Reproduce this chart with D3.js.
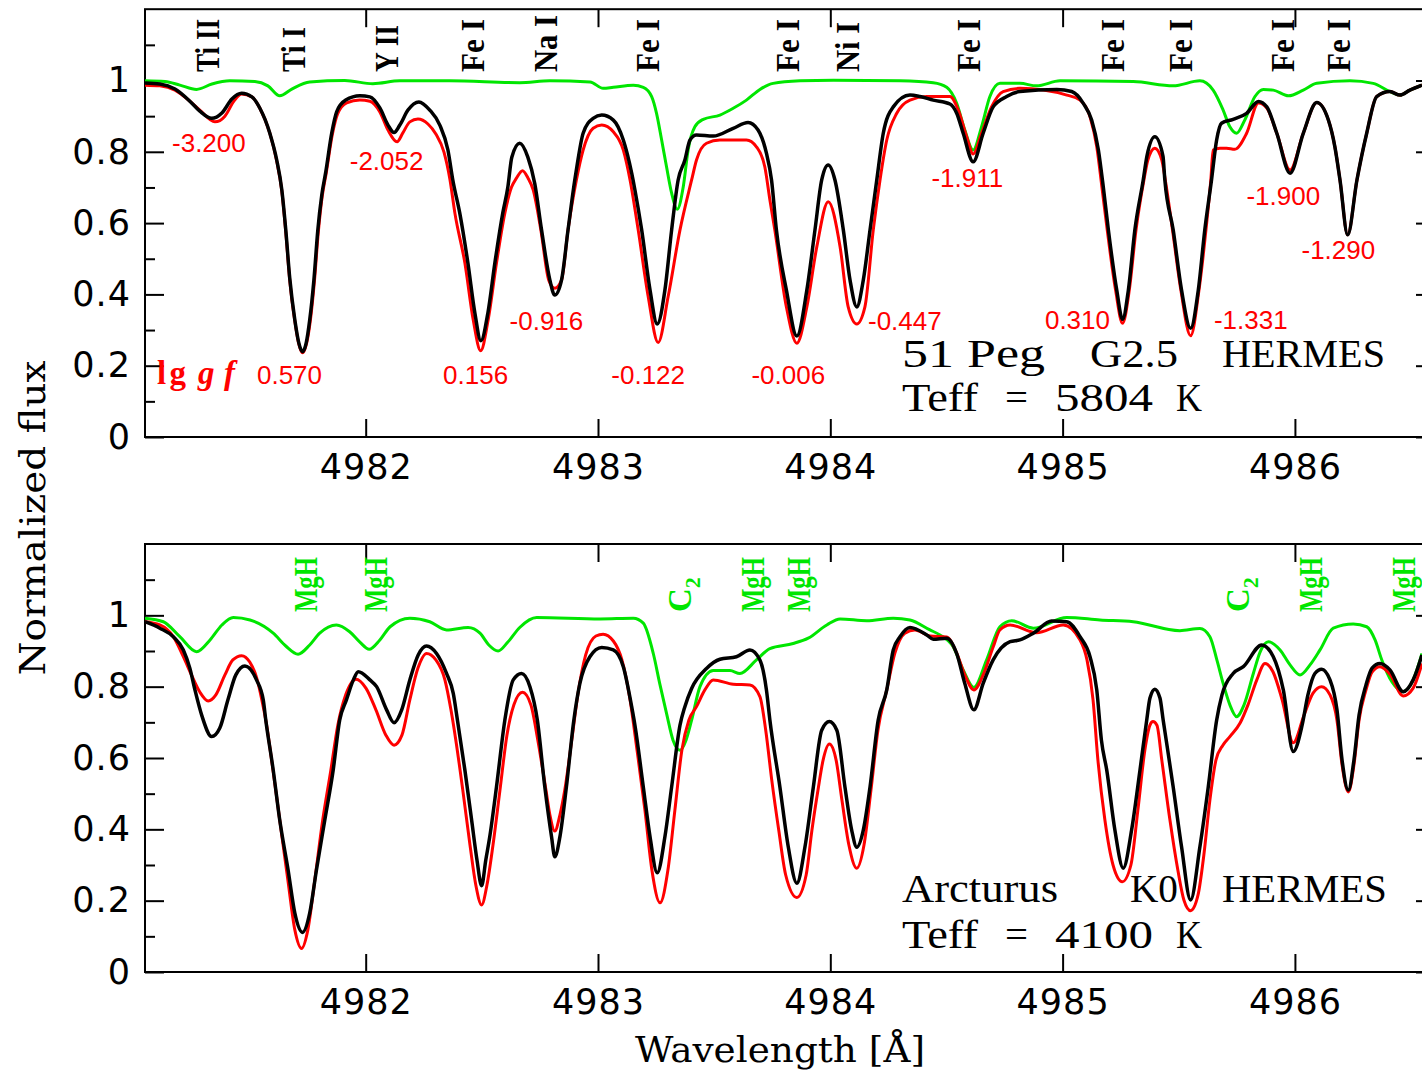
<!DOCTYPE html>
<html><head><meta charset="utf-8">
<script src="https://cdn.jsdelivr.net/npm/d3@7/dist/d3.min.js"></script>
<style>body{margin:0;background:#fff}svg{display:block}</style>
</head><body>
<svg id="chart" width="1422" height="1070"></svg>
<script>
// ---------------- data ----------------
const xTicks = [4982, 4983, 4984, 4985, 4986];
const yMajorTicks = [0, 0.2, 0.4, 0.6, 0.8, 1.0];
const yMajorLabels = ["0", "0.2", "0.4", "0.6", "0.8", "1"];
const yMinorTicks = [0.1, 0.3, 0.5, 0.7, 0.9, 1.1];

// 51 Peg: observed (black)
const pegObserved = [[4981.050,0.993],[4981.114,0.990],[4981.179,0.976],[4981.243,0.942],[4981.286,0.914],[4981.337,0.894],[4981.381,0.909],[4981.424,0.948],[4981.466,0.964],[4981.510,0.954],[4981.544,0.923],[4981.587,0.853],[4981.617,0.777],[4981.639,0.693],[4981.656,0.581],[4981.673,0.446],[4981.695,0.328],[4981.712,0.264],[4981.728,0.239],[4981.744,0.264],[4981.759,0.328],[4981.777,0.440],[4981.794,0.581],[4981.811,0.679],[4981.828,0.743],[4981.854,0.853],[4981.875,0.912],[4981.914,0.945],[4981.975,0.957],[4982.018,0.954],[4982.061,0.923],[4982.096,0.875],[4982.122,0.854],[4982.147,0.875],[4982.182,0.917],[4982.229,0.940],[4982.276,0.917],[4982.319,0.875],[4982.354,0.805],[4982.375,0.721],[4982.405,0.628],[4982.440,0.488],[4982.470,0.348],[4982.496,0.270],[4982.526,0.348],[4982.556,0.488],[4982.590,0.628],[4982.612,0.701],[4982.629,0.785],[4982.663,0.824],[4982.698,0.785],[4982.728,0.710],[4982.757,0.581],[4982.793,0.440],[4982.814,0.398],[4982.843,0.440],[4982.871,0.581],[4982.900,0.721],[4982.909,0.758],[4982.936,0.852],[4982.979,0.894],[4983.016,0.903],[4983.066,0.889],[4983.109,0.833],[4983.145,0.740],[4983.159,0.693],[4983.188,0.581],[4983.224,0.412],[4983.255,0.317],[4983.288,0.412],[4983.317,0.581],[4983.345,0.721],[4983.374,0.777],[4983.396,0.833],[4983.424,0.847],[4983.496,0.844],[4983.582,0.866],[4983.646,0.882],[4983.689,0.861],[4983.725,0.796],[4983.747,0.721],[4983.768,0.581],[4983.811,0.412],[4983.856,0.283],[4983.899,0.412],[4983.934,0.581],[4983.963,0.721],[4983.991,0.763],[4984.020,0.721],[4984.056,0.581],[4984.085,0.440],[4984.114,0.365],[4984.142,0.440],[4984.171,0.581],[4984.200,0.721],[4984.228,0.852],[4984.271,0.926],[4984.343,0.959],[4984.386,0.955],[4984.443,0.945],[4984.515,0.934],[4984.544,0.908],[4984.572,0.852],[4984.615,0.772],[4984.658,0.852],[4984.701,0.926],[4984.759,0.955],[4984.816,0.969],[4984.975,0.975],[4985.039,0.969],[4985.089,0.936],[4985.125,0.889],[4985.154,0.805],[4985.175,0.702],[4985.197,0.581],[4985.233,0.412],[4985.258,0.330],[4985.283,0.412],[4985.311,0.581],[4985.347,0.721],[4985.363,0.788],[4985.397,0.842],[4985.432,0.788],[4985.440,0.721],[4985.476,0.581],[4985.512,0.412],[4985.551,0.305],[4985.584,0.412],[4985.612,0.581],[4985.641,0.721],[4985.663,0.833],[4985.684,0.880],[4985.734,0.891],[4985.792,0.908],[4985.843,0.941],[4985.879,0.926],[4985.922,0.852],[4985.979,0.740],[4986.036,0.852],[4986.094,0.938],[4986.144,0.889],[4986.172,0.814],[4986.194,0.721],[4986.227,0.567],[4986.267,0.721],[4986.309,0.852],[4986.352,0.955],[4986.409,0.969],[4986.452,0.959],[4986.495,0.973],[4986.547,0.987]];

// 51 Peg: synthetic (red)
const pegSynthetic = [[4981.050,0.987],[4981.114,0.985],[4981.179,0.973],[4981.243,0.942],[4981.286,0.917],[4981.351,0.884],[4981.394,0.900],[4981.433,0.942],[4981.466,0.962],[4981.510,0.954],[4981.544,0.923],[4981.587,0.853],[4981.617,0.774],[4981.639,0.690],[4981.656,0.575],[4981.673,0.440],[4981.695,0.325],[4981.712,0.261],[4981.728,0.236],[4981.745,0.261],[4981.761,0.323],[4981.779,0.435],[4981.796,0.575],[4981.813,0.676],[4981.830,0.740],[4981.856,0.847],[4981.879,0.906],[4981.918,0.937],[4981.975,0.945],[4982.018,0.942],[4982.061,0.912],[4982.096,0.861],[4982.135,0.828],[4982.160,0.853],[4982.190,0.884],[4982.225,0.892],[4982.268,0.878],[4982.302,0.850],[4982.337,0.799],[4982.363,0.721],[4982.384,0.628],[4982.427,0.488],[4982.463,0.328],[4982.495,0.242],[4982.527,0.328],[4982.563,0.488],[4982.599,0.628],[4982.628,0.701],[4982.649,0.726],[4982.675,0.747],[4982.699,0.726],[4982.721,0.693],[4982.754,0.581],[4982.788,0.440],[4982.814,0.417],[4982.843,0.440],[4982.871,0.581],[4982.907,0.721],[4982.936,0.805],[4982.979,0.866],[4983.016,0.875],[4983.066,0.856],[4983.109,0.805],[4983.138,0.721],[4983.173,0.581],[4983.216,0.394],[4983.259,0.265],[4983.302,0.394],[4983.353,0.581],[4983.403,0.721],[4983.424,0.777],[4983.467,0.824],[4983.525,0.833],[4983.639,0.833],[4983.682,0.814],[4983.718,0.758],[4983.740,0.665],[4983.761,0.581],[4983.811,0.365],[4983.856,0.263],[4983.899,0.365],[4983.942,0.534],[4983.991,0.660],[4984.042,0.534],[4984.077,0.365],[4984.114,0.317],[4984.149,0.365],[4984.185,0.581],[4984.214,0.721],[4984.243,0.833],[4984.286,0.908],[4984.343,0.945],[4984.415,0.955],[4984.515,0.955],[4984.551,0.917],[4984.587,0.842],[4984.615,0.794],[4984.651,0.852],[4984.694,0.926],[4984.744,0.969],[4984.816,0.978],[4985.018,0.959],[4985.075,0.945],[4985.118,0.898],[4985.147,0.814],[4985.169,0.702],[4985.192,0.581],[4985.228,0.412],[4985.258,0.319],[4985.287,0.412],[4985.316,0.581],[4985.350,0.721],[4985.367,0.777],[4985.397,0.810],[4985.427,0.777],[4985.442,0.721],[4985.473,0.581],[4985.509,0.412],[4985.551,0.284],[4985.587,0.412],[4985.617,0.581],[4985.638,0.721],[4985.648,0.805],[4985.677,0.810],[4985.706,0.810],[4985.741,0.807],[4985.792,0.852],[4985.843,0.937],[4985.879,0.923],[4985.922,0.852],[4985.979,0.749],[4986.036,0.852],[4986.094,0.938],[4986.144,0.889],[4986.172,0.814],[4986.194,0.721],[4986.227,0.567],[4986.267,0.721],[4986.309,0.852],[4986.352,0.955],[4986.409,0.969],[4986.452,0.959],[4986.495,0.973],[4986.547,0.987]];

// 51 Peg: blend component (green)
const pegComponent = [[4981.050,0.999],[4981.136,0.997],[4981.200,0.987],[4981.272,0.975],[4981.338,0.990],[4981.415,0.999],[4981.523,0.997],[4981.579,0.985],[4981.630,0.957],[4981.682,0.976],[4981.759,0.996],[4981.910,1.000],[4982.031,0.991],[4982.147,0.999],[4982.362,0.999],[4982.663,0.994],[4982.793,0.999],[4982.966,0.996],[4983.022,0.978],[4983.066,0.981],[4983.152,0.987],[4983.195,0.981],[4983.231,0.955],[4983.252,0.908],[4983.274,0.833],[4983.295,0.758],[4983.317,0.684],[4983.341,0.639],[4983.367,0.702],[4983.388,0.805],[4983.417,0.870],[4983.453,0.891],[4983.525,0.903],[4983.582,0.922],[4983.639,0.945],[4983.697,0.975],[4983.754,0.992],[4983.870,0.999],[4984.013,1.001],[4984.300,0.999],[4984.443,0.994],[4984.501,0.981],[4984.544,0.936],[4984.579,0.861],[4984.615,0.805],[4984.651,0.870],[4984.687,0.955],[4984.730,0.992],[4984.816,0.992],[4984.888,0.985],[4984.989,0.999],[4985.304,0.997],[4985.476,0.985],[4985.591,0.999],[4985.648,0.973],[4985.691,0.917],[4985.720,0.870],[4985.749,0.852],[4985.784,0.889],[4985.828,0.955],[4985.864,0.975],[4985.907,0.973],[4985.972,0.957],[4986.036,0.973],[4986.094,0.992],[4986.237,0.999],[4986.337,0.992],[4986.409,0.969],[4986.452,0.959],[4986.495,0.973],[4986.547,0.987]];

// Arcturus: observed (black)
const arcObserved = [[4981.050,0.982],[4981.114,0.964],[4981.172,0.940],[4981.215,0.903],[4981.243,0.852],[4981.265,0.791],[4981.295,0.718],[4981.337,0.660],[4981.372,0.684],[4981.407,0.763],[4981.441,0.833],[4981.480,0.858],[4981.530,0.819],[4981.559,0.763],[4981.570,0.706],[4981.602,0.566],[4981.630,0.426],[4981.666,0.286],[4981.695,0.165],[4981.728,0.111],[4981.759,0.165],[4981.788,0.286],[4981.824,0.426],[4981.860,0.566],[4981.888,0.706],[4981.917,0.763],[4981.947,0.819],[4981.968,0.842],[4982.018,0.819],[4982.047,0.800],[4982.090,0.735],[4982.122,0.699],[4982.155,0.735],[4982.190,0.819],[4982.226,0.889],[4982.262,0.914],[4982.305,0.893],[4982.348,0.837],[4982.377,0.781],[4982.395,0.706],[4982.427,0.566],[4982.456,0.426],[4982.479,0.314],[4982.499,0.242],[4982.517,0.314],[4982.534,0.379],[4982.563,0.519],[4982.599,0.706],[4982.635,0.819],[4982.671,0.837],[4982.707,0.800],[4982.739,0.706],[4982.771,0.519],[4982.800,0.379],[4982.814,0.323],[4982.836,0.379],[4982.864,0.519],[4982.896,0.706],[4982.922,0.809],[4982.965,0.884],[4983.016,0.910],[4983.066,0.903],[4983.109,0.856],[4983.145,0.744],[4983.159,0.692],[4983.195,0.519],[4983.224,0.379],[4983.255,0.278],[4983.288,0.379],[4983.317,0.519],[4983.353,0.692],[4983.374,0.744],[4983.403,0.795],[4983.467,0.851],[4983.525,0.877],[4983.596,0.884],[4983.654,0.903],[4983.697,0.875],[4983.725,0.791],[4983.740,0.706],[4983.783,0.519],[4983.819,0.351],[4983.856,0.249],[4983.891,0.351],[4983.927,0.519],[4983.963,0.678],[4983.996,0.702],[4984.028,0.678],[4984.063,0.519],[4984.092,0.398],[4984.114,0.350],[4984.142,0.398],[4984.171,0.519],[4984.206,0.706],[4984.243,0.791],[4984.271,0.903],[4984.300,0.940],[4984.343,0.966],[4984.415,0.945],[4984.443,0.933],[4984.501,0.936],[4984.544,0.893],[4984.579,0.809],[4984.618,0.735],[4984.658,0.809],[4984.701,0.875],[4984.774,0.926],[4984.816,0.931],[4984.874,0.950],[4984.953,0.984],[4985.018,0.982],[4985.075,0.940],[4985.118,0.884],[4985.147,0.791],[4985.167,0.650],[4985.190,0.566],[4985.225,0.398],[4985.261,0.291],[4985.297,0.398],[4985.333,0.566],[4985.362,0.706],[4985.376,0.768],[4985.397,0.793],[4985.419,0.768],[4985.433,0.706],[4985.476,0.519],[4985.512,0.351],[4985.551,0.202],[4985.591,0.351],[4985.627,0.519],[4985.663,0.706],[4985.686,0.777],[4985.734,0.837],[4985.778,0.856],[4985.857,0.917],[4985.907,0.884],[4985.950,0.791],[4985.993,0.618],[4986.031,0.692],[4986.056,0.777],[4986.086,0.837],[4986.115,0.849],[4986.151,0.819],[4986.181,0.735],[4986.203,0.594],[4986.230,0.510],[4986.254,0.594],[4986.276,0.720],[4986.306,0.805],[4986.332,0.852],[4986.366,0.865],[4986.409,0.847],[4986.466,0.786],[4986.509,0.819],[4986.547,0.889]];

// Arcturus: synthetic (red)
const arcSynthetic = [[4981.050,0.982],[4981.114,0.973],[4981.172,0.940],[4981.215,0.884],[4981.252,0.830],[4981.286,0.785],[4981.322,0.760],[4981.355,0.777],[4981.394,0.833],[4981.428,0.875],[4981.466,0.887],[4981.501,0.869],[4981.531,0.824],[4981.553,0.763],[4981.570,0.706],[4981.601,0.566],[4981.630,0.426],[4981.665,0.258],[4981.695,0.118],[4981.724,0.066],[4981.751,0.118],[4981.781,0.258],[4981.815,0.426],[4981.850,0.566],[4981.880,0.692],[4981.914,0.777],[4981.958,0.821],[4982.001,0.796],[4982.044,0.735],[4982.087,0.664],[4982.122,0.636],[4982.156,0.664],[4982.190,0.763],[4982.225,0.852],[4982.262,0.893],[4982.302,0.875],[4982.341,0.819],[4982.367,0.735],[4982.388,0.650],[4982.418,0.510],[4982.449,0.356],[4982.474,0.244],[4982.499,0.188],[4982.522,0.244],[4982.548,0.356],[4982.578,0.510],[4982.608,0.664],[4982.638,0.749],[4982.675,0.784],[4982.711,0.749],[4982.741,0.650],[4982.776,0.510],[4982.793,0.440],[4982.814,0.395],[4982.836,0.440],[4982.857,0.510],[4982.887,0.650],[4982.913,0.777],[4982.947,0.889],[4982.991,0.942],[4983.022,0.947],[4983.066,0.928],[4983.103,0.875],[4983.138,0.763],[4983.168,0.622],[4983.202,0.454],[4983.232,0.286],[4983.267,0.194],[4983.301,0.286],[4983.331,0.454],[4983.361,0.622],[4983.391,0.706],[4983.424,0.744],[4983.460,0.791],[4983.496,0.819],[4983.582,0.807],[4983.654,0.805],[4983.697,0.772],[4983.722,0.678],[4983.748,0.538],[4983.778,0.398],[4983.808,0.272],[4983.856,0.209],[4983.896,0.272],[4983.921,0.398],[4983.947,0.510],[4983.969,0.594],[4983.996,0.639],[4984.025,0.594],[4984.050,0.482],[4984.080,0.356],[4984.114,0.291],[4984.145,0.356],[4984.175,0.510],[4984.205,0.678],[4984.243,0.791],[4984.278,0.894],[4984.321,0.950],[4984.364,0.959],[4984.429,0.942],[4984.501,0.939],[4984.544,0.894],[4984.579,0.833],[4984.618,0.791],[4984.658,0.833],[4984.701,0.911],[4984.730,0.959],[4984.774,0.973],[4984.888,0.951],[4985.003,0.973],[4985.075,0.931],[4985.105,0.875],[4985.131,0.763],[4985.152,0.594],[4985.182,0.426],[4985.217,0.300],[4985.257,0.253],[4985.294,0.300],[4985.324,0.454],[4985.354,0.622],[4985.376,0.692],[4985.389,0.702],[4985.406,0.692],[4985.427,0.594],[4985.462,0.426],[4985.496,0.286],[4985.522,0.202],[4985.551,0.172],[4985.583,0.216],[4985.608,0.328],[4985.634,0.482],[4985.660,0.594],[4985.690,0.636],[4985.720,0.660],[4985.764,0.698],[4985.798,0.749],[4985.836,0.819],[4985.871,0.865],[4985.906,0.841],[4985.945,0.763],[4985.993,0.643],[4986.039,0.720],[4986.078,0.782],[4986.115,0.800],[4986.151,0.777],[4986.181,0.706],[4986.203,0.580],[4986.230,0.505],[4986.254,0.580],[4986.276,0.706],[4986.306,0.791],[4986.332,0.841],[4986.366,0.856],[4986.409,0.835],[4986.466,0.774],[4986.509,0.796],[4986.547,0.865]];

// Arcturus: molecular component (green)
const arcComponent = [[4981.050,0.992],[4981.129,0.982],[4981.200,0.940],[4981.272,0.898],[4981.330,0.931],[4981.381,0.973],[4981.430,0.994],[4981.502,0.987],[4981.602,0.950],[4981.656,0.914],[4981.709,0.891],[4981.759,0.917],[4981.802,0.950],[4981.874,0.973],[4981.931,0.954],[4981.975,0.925],[4982.015,0.905],[4982.061,0.931],[4982.105,0.968],[4982.190,0.992],[4982.276,0.982],[4982.348,0.959],[4982.441,0.966],[4982.492,0.950],[4982.530,0.917],[4982.570,0.900],[4982.612,0.925],[4982.663,0.966],[4982.736,0.994],[4983.009,0.990],[4983.152,0.992],[4983.195,0.978],[4983.238,0.893],[4983.267,0.805],[4983.295,0.725],[4983.323,0.650],[4983.353,0.622],[4983.379,0.650],[4983.403,0.706],[4983.439,0.800],[4983.496,0.845],[4983.568,0.845],[4983.611,0.837],[4983.682,0.875],[4983.740,0.907],[4983.840,0.921],[4983.905,0.936],[4983.985,0.973],[4984.042,0.990],[4984.157,0.985],[4984.271,0.992],[4984.343,0.987],[4984.429,0.959],[4984.472,0.945],[4984.529,0.912],[4984.572,0.847],[4984.618,0.798],[4984.673,0.875],[4984.730,0.968],[4984.781,0.985],[4984.874,0.964],[4985.018,0.994],[4985.161,0.987],[4985.304,0.982],[4985.505,0.957],[4985.591,0.963],[4985.634,0.940],[4985.664,0.875],[4985.691,0.809],[4985.720,0.749],[4985.749,0.716],[4985.781,0.749],[4985.821,0.837],[4985.850,0.897],[4985.886,0.926],[4985.936,0.903],[4985.979,0.861],[4986.022,0.833],[4986.065,0.861],[4986.108,0.903],[4986.165,0.964],[4986.251,0.976],[4986.309,0.968],[4986.345,0.931],[4986.374,0.875],[4986.418,0.813],[4986.466,0.786],[4986.509,0.819],[4986.547,0.893]];

// line identifications
const pegLineNames = ["Ti II","Ti I","Y II","Fe I","Na I","Fe I","Fe I","Ni I","Fe I","Fe I","Fe I","Fe I","Fe I"];
const pegLineWave  = [4981.319,4981.691,4982.090,4982.459,4982.776,4983.213,4983.816,4984.074,4984.597,4985.215,4985.509,4985.947,4986.190];
// lg gf values and where they are written (wavelength, flux)
const gfText = ["-3.200","0.570","-2.052","0.156","-0.916","-0.122","-0.006","-0.447","-1.911","0.310","-1.331","-1.900","-1.290"];
const gfWave = [4981.325,4981.672,4982.090,4982.473,4982.778,4983.216,4983.819,4984.321,4984.590,4985.064,4985.810,4985.950,4986.187];
const gfFlux = [0.800,0.149,0.749,0.149,0.300,0.149,0.149,0.300,0.701,0.302,0.302,0.651,0.499];
// molecular identifications in Arcturus
const arcMolNames = ["MgH","MgH","C","MgH","MgH","C","MgH","MgH"];
const arcMolSub   = ["","","2","","","2","",""];
const arcMolWave  = [4981.742,4982.044,4983.352,4983.665,4983.865,4985.755,4986.069,4986.469];

// ---------------- drawing ----------------
const svg = d3.select("#chart");
const x = d3.scaleLinear().domain([4981.05, 4986.603]).range([145, 1435]);
const yTop = d3.scaleLinear().domain([0, 1.2]).range([437, 9.2]);
const yBot = d3.scaleLinear().domain([0, 1.2]).range([972, 544]);

const GREEN = "#00e600", RED = "#ff0000";
const tickFont = "'DejaVu Sans', sans-serif";
const idFont = "'Liberation Serif', serif";

function drawPanel(y, comp, syn, obs) {
  const g = svg.append("g");
  const x0 = 145, x1 = 1435;
  const yb = y.range()[0], yt = y.range()[1];
  const clipId = "clip" + Math.round(yb);
  svg.append("clipPath").attr("id", clipId).append("rect")
     .attr("x", x0).attr("y", yt).attr("width", x1 - x0).attr("height", yb - yt);

  const style = sel => {
    sel.select(".domain").remove();
    sel.selectAll(".tick line").attr("stroke", "#000").attr("stroke-width", 2);
    sel.selectAll(".tick text").attr("font-family", tickFont).attr("font-size", 35)
       .attr("letter-spacing", 1).attr("fill", "#000");
  };
  const none = () => "";
  g.append("g").attr("transform", `translate(0,${yb})`)
    .call(d3.axisBottom(x).tickValues(xTicks).tickSize(-18).tickSizeOuter(0).tickPadding(17).tickFormat(d3.format("d"))).call(style);
  g.append("g").attr("transform", `translate(0,${yt})`)
    .call(d3.axisTop(x).tickValues(xTicks).tickSize(-18).tickSizeOuter(0).tickFormat(none)).call(style);
  g.append("g").attr("transform", `translate(${x0},0)`)
    .call(d3.axisLeft(y).tickValues(yMajorTicks).tickSize(-19).tickSizeOuter(0).tickPadding(14)
      .tickFormat((d, i) => yMajorLabels[i])).call(style);
  g.append("g").attr("transform", `translate(${x0},0)`)
    .call(d3.axisLeft(y).tickValues(yMinorTicks).tickSize(-10).tickSizeOuter(0).tickFormat(none)).call(style);
  g.append("g").attr("transform", `translate(${x1},0)`)
    .call(d3.axisRight(y).tickValues(yMajorTicks).tickSize(-19).tickSizeOuter(0).tickFormat(none)).call(style);
  g.append("g").attr("transform", `translate(${x1},0)`)
    .call(d3.axisRight(y).tickValues(yMinorTicks).tickSize(-10).tickSizeOuter(0).tickFormat(none)).call(style);
  g.append("rect").attr("x", x0).attr("y", yt).attr("width", x1 - x0).attr("height", yb - yt)
    .attr("fill", "none").attr("stroke", "#000").attr("stroke-width", 2);

  const line = d3.line().x(d => x(d[0])).y(d => y(d[1])).curve(d3.curveMonotoneX);
  const cg = g.append("g").attr("clip-path", `url(#${clipId})`);
  cg.append("path").datum(comp).attr("d", line).attr("fill", "none").attr("stroke", GREEN).attr("stroke-width", 3);
  cg.append("path").datum(syn).attr("d", line).attr("fill", "none").attr("stroke", RED).attr("stroke-width", 3);
  cg.append("path").datum(obs).attr("d", line).attr("fill", "none").attr("stroke", "#000").attr("stroke-width", 3.5);
  return g;
}

const gTop = drawPanel(yTop, pegComponent, pegSynthetic, pegObserved);
const gBot = drawPanel(yBot, arcComponent, arcSynthetic, arcObserved);

// label length (px) per identification string, reference rendering
const idLen = {"Ti II": 53, "Ti I": 45, "Y II": 47, "Fe I": 53, "Na I": 57, "Ni I": 50, "MgH": 55};

pegLineNames.forEach((name, i) => {
  gTop.append("text")
    .attr("transform", `translate(${x(pegLineWave[i])},72) rotate(-90)`)
    .attr("dy", "0.34em")
    .attr("font-family", idFont).attr("font-weight", "bold").attr("font-size", 33)
    .attr("textLength", idLen[name]).attr("lengthAdjust", "spacingAndGlyphs")
    .attr("fill", "#000").text(name);
});
arcMolNames.forEach((name, i) => {
  const t = gBot.append("text")
    .attr("transform", `translate(${x(arcMolWave[i])},612) rotate(-90)`)
    .attr("dy", "0.34em")
    .attr("font-family", idFont).attr("font-weight", "bold").attr("font-size", 33)
    .attr("fill", GREEN);
  if (idLen[name]) t.attr("textLength", idLen[name]).attr("lengthAdjust", "spacingAndGlyphs");
  t.append("tspan").text(name);
  if (arcMolSub[i]) t.append("tspan").attr("dy", "0.4em").attr("font-size", 22).text(arcMolSub[i]);
});
// lg gf values
gfText.forEach((s, i) => {
  gTop.append("text").attr("x", x(gfWave[i])).attr("y", yTop(gfFlux[i]))
    .attr("text-anchor", "middle").attr("font-family", "'Liberation Sans', Arial, sans-serif")
    .attr("font-size", 26).attr("fill", RED).text(s);
});
gTop.append("text").attr("x", 157).attr("y", 384).attr("font-family", idFont).attr("font-weight", "bold")
  .attr("font-size", 33).attr("fill", RED).attr("textLength", 29).text("lg");
gTop.append("text").attr("x", 198).attr("y", 384).attr("font-family", idFont).attr("font-weight", "bold")
  .attr("font-style", "italic").attr("font-size", 33).attr("fill", RED).attr("textLength", 37).text("gf");

// star annotations: [text, left x, width]
function ann(items, yy) {
  items.forEach(([w, xx, len]) => {
    svg.append("text").attr("x", xx).attr("y", yy).attr("font-family", idFont).attr("font-size", 39)
      .attr("textLength", len).attr("lengthAdjust", "spacingAndGlyphs").attr("fill", "#000").text(w);
  });
}
ann([["51 Peg", 902, 143], ["G2.5", 1090, 88], ["HERMES", 1222, 163]], 367);
ann([["Teff", 902, 76], ["=", 1005, 23], ["5804", 1055, 98], ["K", 1176, 26]], 411);
ann([["Arcturus", 902, 156], ["K0", 1130, 48], ["HERMES", 1222, 165]], 902);
ann([["Teff", 902, 76], ["=", 1005, 23], ["4100", 1055, 98], ["K", 1176, 26]], 948);

// axis titles
svg.append("text").attr("transform", "translate(45,518) rotate(-90)").attr("text-anchor", "middle")
  .attr("font-family", "'DejaVu Serif', serif").attr("font-size", 36)
  .attr("textLength", 315).attr("lengthAdjust", "spacingAndGlyphs").attr("fill", "#000").text("Normalized flux");
svg.append("text").attr("x", 780).attr("y", 1062).attr("text-anchor", "middle")
  .attr("font-family", "'DejaVu Serif', serif").attr("font-size", 36)
  .attr("textLength", 290).attr("lengthAdjust", "spacingAndGlyphs").attr("fill", "#000").text("Wavelength [Å]");
</script>
</body></html>
